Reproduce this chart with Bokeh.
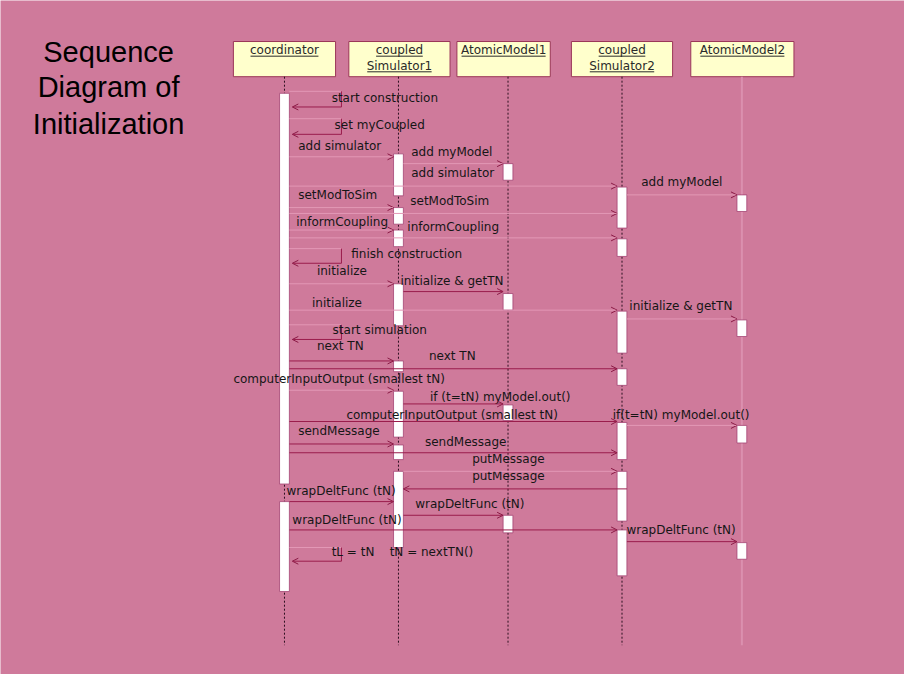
from bokeh.plotting import figure
from bokeh.models import Range1d, ColumnDataSource, Arrow, OpenHead
from bokeh.core.properties import value, field
from bokeh.embed import file_html
from bokeh.resources import INLINE

# ---------------- data ----------------
title_lines = ["Sequence", "Diagram of", "Initialization"]

participants = ["coordinator", "coupled Simulator1", "AtomicModel1",
                "coupled Simulator2", "AtomicModel2"]
header_lines = [["coordinator"], ["coupled", "Simulator1"], ["AtomicModel1"],
                ["coupled", "Simulator2"], ["AtomicModel2"]]
lifeline_x = [289, 405, 516.5, 632.5, 754.5]
box_center = [289, 406, 512, 632.5, 755]
box_width = [104, 103, 95, 103, 105]
lifeline_dashed = [True, True, True, True, False]

# activation bars: participant index, start, end (time axis = page y)
act_part = [0, 0,
            1, 1, 1, 1, 1, 1, 1, 1,
            2, 2, 2, 2,
            3, 3, 3, 3, 3, 3, 3,
            4, 4, 4, 4]
act_start = [95, 513,
             157, 212, 235, 290, 369, 400, 455, 482,
             167, 300, 414, 527,
             191, 244, 318, 377, 432, 482, 542,
             199, 327, 435, 555]
act_end = [495, 605,
           200, 229, 252, 333, 380, 447, 470, 560,
           184, 317, 430, 545,
           233, 262, 361, 394, 470, 533, 589,
           216, 344, 453, 572]

# messages between participants
msg_from = [0, 1, 0, 3, 0, 0, 0, 0, 0, 1, 0, 3, 0, 0, 0, 1, 0, 3, 0, 0, 1, 3, 0, 1, 0, 3]
msg_to   = [1, 2, 3, 4, 1, 3, 1, 3, 1, 2, 3, 4, 1, 3, 1, 2, 3, 4, 1, 3, 3, 1, 1, 2, 3, 4]
msg_time = [160, 167, 190, 199, 212, 218, 235, 243, 290, 298, 317, 326, 369, 377,
            399, 413, 431, 435, 454, 463, 482, 500, 513, 527, 542, 554]
msg_tone = ["light", "light", "light", "light", "light", "light", "light", "light",
            "light", "dark", "light", "light", "dark", "dark", "light", "dark",
            "dark", "light", "dark", "dark", "light", "dark", "dark", "dark",
            "dark", "dark"]
msg_label = ["add simulator", "add myModel", "add simulator", "add myModel",
             "setModToSim", "setModToSim", "informCoupling", "informCoupling",
             "initialize", "initialize & getTN", "initialize", "initialize & getTN",
             "next TN", "next TN",
             "computerInputOutput (smallest tN)", "if (t=tN) myModel.out()",
             "computerInputOutput (smallest tN)", "if(t=tN) myModel.out()",
             "sendMessage", "sendMessage", "putMessage", "putMessage",
             "wrapDeltFunc (tN)", "wrapDeltFunc (tN)", "wrapDeltFunc (tN)",
             "wrapDeltFunc (tN)"]
msg_label_x = [303, 418, 418, 652, 303, 417, 301, 414, 322, 407, 317, 640, 322, 436,
               237, 437, 352, 623, 303, 432, 480, 480, 291, 422, 297, 637]
msg_label_y = [149, 155, 177, 186, 199, 205, 227, 232, 277, 287, 310, 313, 354, 364,
               387, 406, 424, 424, 441, 452, 469, 487, 502, 515, 532, 542]

# self messages on the coordinator
self_start = [93, 121, 254, 332, 560]
self_end = [109, 137, 269, 347, 574]
self_label = ["start construction", "set myCoupled", "finish construction",
              "start simulation", "tL = tN\u00a0\u00a0\u00a0 tN = nextTN()"]
self_label_x = [337, 340, 357, 338, 337]
self_label_y = [100, 127, 260, 337, 565]

# ---------------- style ----------------
BG = "#CF7A9B"
DARK = "#9A1D4C"
LIGHT = "#E398B6"
HEAD = "#8A1A45"
BOX_FILL = "#FFFFCC"
BOX_LINE = "#9A3558"
TXT = "#161616"
FONT = "DejaVu Sans"
HALF_BAR = 5
BOX_TOP, BOX_BOT = 42, 78
LIFE_END = 660
LOOP_W = 58

DJV = {"a": .613, "c": .550, "d": .635, "e": .615, "i": .278, "l": .278,
       "m": .974, "n": .634, "o": .612, "p": .635, "r": .411, "t": .392,
       "u": .634, "S": .635, "A": .684, "M": .863, "1": .636, "2": .636}


def text_w(s, size=12):
    return sum(DJV.get(ch, .6) for ch in s) * size


p = figure(width=904, height=674, x_range=Range1d(0, 920), y_range=Range1d(690, 0),
           output_backend="svg", toolbar_location=None, x_axis_type=None,
           y_axis_type=None, min_border=0)
p.grid.visible = False
p.outline_line_color = None
p.background_fill_color = BG
p.border_fill_color = BG

# title
p.text(x=[110] * 3, y=[53, 89, 126], text=title_lines, text_font=value("Liberation Sans"),
       text_font_size="29px", text_align="center", text_baseline="middle",
       text_color="#000000")

# header boxes
p.quad(left=[c - w / 2 for c, w in zip(box_center, box_width)],
       right=[c + w / 2 for c, w in zip(box_center, box_width)],
       top=[BOX_TOP] * 5, bottom=[BOX_BOT] * 5, fill_color=BOX_FILL,
       line_color=BOX_LINE, line_width=1)
hx, hy, ht, ux0, ux1, uy = [], [], [], [], [], []
for i, lines in enumerate(header_lines):
    for j, s in enumerate(lines):
        yy = 51 + 16 * j
        hx.append(box_center[i]); hy.append(yy); ht.append(s)
        w = text_w(s)
        ux0.append(box_center[i] - w / 2); ux1.append(box_center[i] + w / 2); uy.append(yy + 6)
p.text(x=hx, y=hy, text=ht, text_font=value(FONT), text_font_size="12px",
       text_align="center", text_baseline="middle", text_color="#2a2a2a")
p.segment(x0=ux0, y0=uy, x1=ux1, y1=uy, line_color="#2a2a2a", line_width=1)

# lifelines
for i, x in enumerate(lifeline_x):
    if lifeline_dashed[i]:
        p.segment(x0=[x], y0=[BOX_BOT], x1=[x], y1=[LIFE_END], line_color="#2b0f1e",
                  line_width=1, line_dash="2 2")
    else:
        p.segment(x0=[x], y0=[BOX_BOT], x1=[x], y1=[LIFE_END], line_color="#DB90AF",
                  line_width=2)

# activation bars
p.quad(left=[lifeline_x[i] - HALF_BAR for i in act_part],
       right=[lifeline_x[i] + HALF_BAR for i in act_part],
       top=act_start, bottom=act_end, fill_color="#FFFFFF",
       line_color="#A54474", line_width=0.8)

# messages
xs, xe, cols = [], [], []
for f, t, tone in zip(msg_from, msg_to, msg_tone):
    if t > f:
        xs.append(lifeline_x[f] + HALF_BAR); xe.append(lifeline_x[t] - HALF_BAR)
    else:
        xs.append(lifeline_x[f] + HALF_BAR); xe.append(lifeline_x[t] + HALF_BAR)
    cols.append(DARK if tone == "dark" else LIGHT)
msrc = ColumnDataSource(dict(xs=xs, xe=xe, y=msg_time, color=cols))
p.add_layout(Arrow(x_start="xs", y_start="y", x_end="xe", y_end="y", source=msrc,
                   line_color=field("color"), line_width=1,
                   end=OpenHead(size=6, line_color=HEAD, line_width=1)))
p.text(x=msg_label_x, y=msg_label_y, text=msg_label, text_font=value(FONT),
       text_font_size="12px", text_align="left", text_baseline="middle",
       text_color=TXT)

# self messages
cx = lifeline_x[0]
loop_x = [cx + LOOP_W] * len(self_start)
p.segment(x0=[cx + HALF_BAR] * len(self_start), y0=self_start, x1=loop_x, y1=self_start,
          line_color=LIGHT, line_width=1)
p.segment(x0=loop_x, y0=self_start, x1=loop_x, y1=self_end, line_color=DARK, line_width=1)
ssrc = ColumnDataSource(dict(xs=loop_x, xe=[cx + HALF_BAR + 3] * len(self_start), y=self_end))
p.add_layout(Arrow(x_start="xs", y_start="y", x_end="xe", y_end="y", source=ssrc,
                   line_color=DARK, line_width=1,
                   end=OpenHead(size=6, line_color=HEAD, line_width=1)))
p.text(x=self_label_x, y=self_label_y, text=self_label, text_font=value(FONT),
       text_font_size="12px", text_align="left", text_baseline="middle",
       text_color=TXT)

html = file_html(p, INLINE)
html = html.replace("<body>", '<body style="background-color:%s;">' % BG, 1)
open("out.html", "w").write(html)
